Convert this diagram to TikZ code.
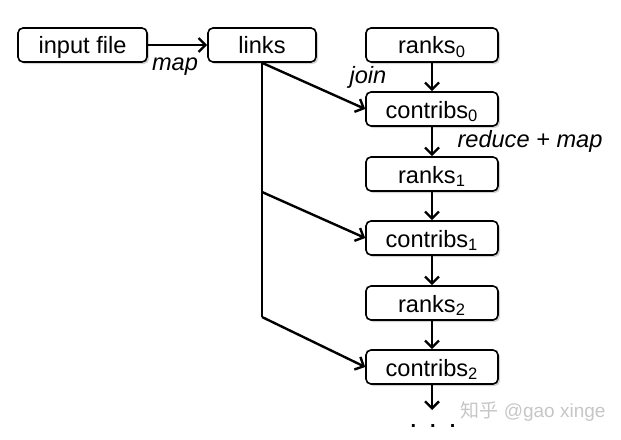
\documentclass[tikz,border=0pt]{standalone}
\usepackage{fontspec}
\setmainfont{Liberation Sans}
\newfontfamily\cjk{Noto Sans CJK SC}
\usepackage{tikz}
\usetikzlibrary{positioning, arrows.meta, shadows}

\begin{document}
\begin{tikzpicture}[x=0.5pt, y=-0.5pt,
    box/.style={draw, thick, fill=white, rounded corners=2.5pt, minimum height=17pt,
      font=\fontsize{11.8}{14}\selectfont, text height=9pt, text depth=0pt,
      drop shadow={opacity=0.35, shadow xshift=1pt, shadow yshift=-1pt}},
    flow/.style={-{Straight Barb[length=3.5pt, width=7pt]}, line width=1.2pt},
    trunk/.style={line width=1.2pt},
    lbl/.style={font=\fontsize{11.8}{14}\selectfont\itshape}]
        \useasboundingbox (0,0) rectangle (621,439);

        % sources
        \node[box, minimum width=64.5pt] (input) at (82.5,45) {input file};
        \node[box, minimum width=54pt] (links) at (262,45) {links};
        \draw[flow] (input) -- (links);
        \node[lbl] (maplbl) at (175,67) {map};

        % iterations
        \foreach \i in {0,1,2} {
          \node[box, minimum width=66pt] (ranks\i) at (432,45+129*\i) {ranks\textsubscript{\i}};
          \node[box, minimum width=66pt] (contribs\i) at (432,109+129*\i) {contribs\textsubscript{\i}};
          \draw[flow] (ranks\i) -- (contribs\i);
        }
        \draw[flow] (contribs0) -- (ranks1);
        \draw[flow] (contribs1) -- (ranks2);
        \coordinate (more) at (432,410);
        \draw[flow] (contribs2) -- (more);
        \node[font=\bfseries] (dots) at (433,426) {.\hspace{7pt}.\hspace{7pt}.};

        \node[lbl] (joinlbl) at (368,77) {join};
        \node[lbl] (redlbl) at (530,141) {reduce + map};

        % links joined into every step
        \coordinate (fork1) at (262,192);
        \coordinate (fork2) at (262,317);
        \draw[trunk] (links.south) -- (fork2);
        \draw[flow] (links.south) -- (contribs0.west);
        \draw[flow] (fork1) -- (contribs1.west);
        \draw[flow] (fork2) -- (contribs2.west);

        \node[text=gray!45, font=\fontsize{9.5}{11}\selectfont] (mark) at (533,411) {{\cjk 知乎} @gao xinge};
      \end{tikzpicture}
\end{document}
